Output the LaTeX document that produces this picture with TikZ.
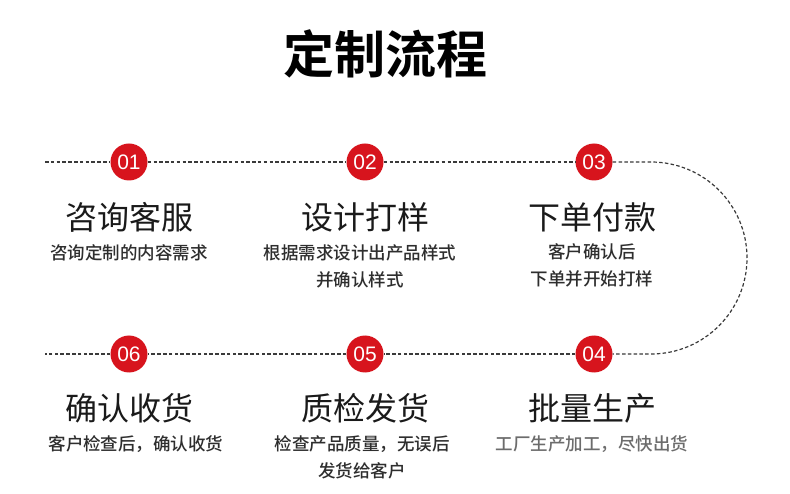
\documentclass[tikz,border=0pt]{standalone}
\usepackage{fontspec}
\setmainfont{Noto Sans CJK SC}
\newfontfamily\cjkbold{Noto Sans CJK SC Bold}
\newfontfamily\cjkmed{Noto Sans CJK SC Medium}
\newfontfamily\numfont{Liberation Sans}
\definecolor{stepred}{HTML}{D7141D}
\definecolor{trackgray}{HTML}{3A3A3A}
\definecolor{titleblack}{HTML}{1A1A1A}
\definecolor{subgray}{HTML}{2E2E2E}
\tikzset{
  numcircle/.style={circle, fill=stepred, minimum size=37pt, inner sep=0pt,
    text=white, font=\numfont\fontsize{21}{21}\selectfont},
  steptitle/.style={text=titleblack, inner sep=0pt, font=\fontsize{32}{32}\selectfont},
  stepsub/.style={text=subgray, inner sep=0pt, align=center,
    font=\cjkmed\fontsize{17.5}{27}\selectfont},
  track/.style={draw=trackgray, line width=1.2pt, dash pattern=on 3.5pt off 2.3pt},
}
\begin{document}
\begin{tikzpicture}[x=1pt,y=1pt]
\useasboundingbox (0,0) rectangle (790,-494);
\fill[white] (0,0) rectangle (790,-494);

\node[text=black, inner sep=0pt, font=\cjkbold\fontsize{51}{51}\selectfont] (title) at (385,-54) {定制流程};

% track endpoints
\coordinate (lt) at (45,-162);
\coordinate (rt) at (651,-162);
\coordinate (rb) at (651,-354);
\coordinate (lb) at (45,-354);

% circles
\node[numcircle] (n01) at (129,-162) {01};
\node[numcircle] (n02) at (365,-162) {02};
\node[numcircle] (n03) at (594,-162) {03};
\node[numcircle] (n04) at (594,-354) {04};
\node[numcircle] (n05) at (365,-354) {05};
\node[numcircle] (n06) at (129,-354) {06};

% dashed track
\draw[track] (lt) -- (n01);
\draw[track] (n01) -- (n02);
\draw[track] (n02) -- (n03);
\draw[track] (n03) -- (rt) arc[start angle=90, end angle=-90, radius=96pt] -- (n04);
\draw[track] (n04) -- (n05);
\draw[track] (n05) -- (n06);
\draw[track] (n06) -- (lb);

% step texts
\node[steptitle] (t1) at (129,-217) {咨询客服};
\node[stepsub] (s1) at (129,-253) {咨询定制的内容需求};

\node[steptitle] (t2) at (365,-217) {设计打样};
\node[stepsub, anchor=north] (s2) at (360,-244) {根据需求设计出产品样式\\并确认样式};

\node[steptitle] (t3) at (592,-217) {下单付款};
\node[stepsub, anchor=north] (s3) at (592,-243) {客户确认后\\下单并开始打样};

\node[steptitle] (t6) at (129,-408) {确认收货};
\node[stepsub] (s6) at (136,-444) {客户检查后，确认收货};

\node[steptitle] (t5) at (365,-408) {质检发货};
\node[stepsub, anchor=north] (s5) at (362,-435) {检查产品质量，无误后\\发货给客户};

\node[steptitle] (t4) at (592,-408) {批量生产};
\node[stepsub, text=gray!85!black] (s4) at (592,-444) {工厂生产加工，尽快出货};
\end{tikzpicture}
\end{document}
